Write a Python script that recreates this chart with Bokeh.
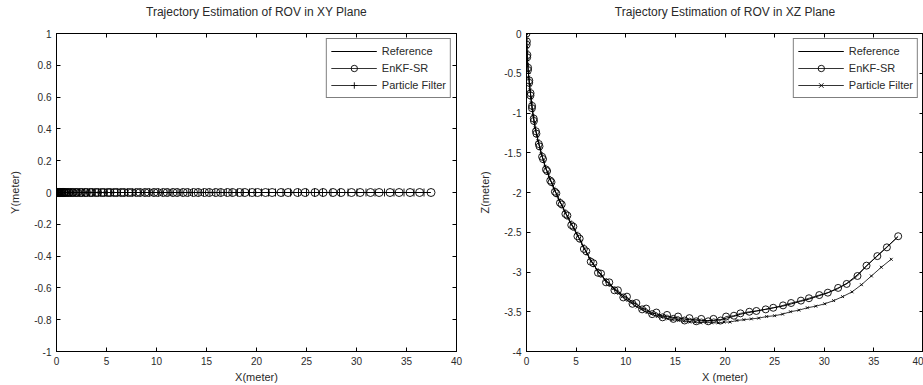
from bokeh.plotting import figure
from bokeh.models import Range1d, FixedTicker, LinearAxis, Title, Legend, CustomJSTickFormatter
from bokeh.layouts import row
from bokeh.embed import file_html
from bokeh.resources import INLINE

# ---------------- data ----------------
ref_x = [0.00, 0.01, 0.03, 0.06, 0.09, 0.13, 0.18, 0.24, 0.30, 0.37, 0.44, 0.51, 0.59, 0.68, 0.78, 0.90,
         1.04, 1.19, 1.35, 1.52, 1.71, 1.91, 2.12, 2.34, 2.57, 2.81, 3.06, 3.32, 3.59, 3.87, 4.16, 4.46,
         4.77, 5.08, 5.40, 5.73, 6.07, 6.42, 6.78, 7.15,
         7.55, 7.96, 8.38, 8.81, 9.25, 9.70, 10.16, 10.63, 11.11, 11.60, 12.10, 12.61, 13.13, 13.66, 14.20,
         14.75, 15.31, 15.88, 16.46, 17.05, 17.65, 18.26, 18.88, 19.51, 20.15,
         20.85, 21.60, 22.40, 23.20, 24.05, 24.90, 25.80, 26.70, 27.60, 28.50, 29.45, 30.40, 31.35, 32.30,
         33.30, 34.30, 35.30, 36.35, 37.40]
ref_z = [0.00, -0.08, -0.16, -0.24, -0.32, -0.40, -0.48, -0.56, -0.64, -0.72, -0.80, -0.88, -0.96, -1.04,
         -1.12, -1.20, -1.28, -1.36, -1.44, -1.52, -1.60, -1.68, -1.75, -1.82, -1.89, -1.96, -2.03, -2.10,
         -2.17, -2.24, -2.31, -2.38, -2.45, -2.52, -2.60, -2.68, -2.76, -2.84, -2.91, -2.98,
         -3.04, -3.10, -3.15, -3.20, -3.25, -3.29, -3.33, -3.37, -3.41, -3.45, -3.48, -3.51, -3.53, -3.55,
         -3.56, -3.57, -3.58, -3.59, -3.60, -3.60, -3.61, -3.61, -3.61, -3.60, -3.58,
         -3.56, -3.53, -3.51, -3.49, -3.47, -3.45, -3.43, -3.40, -3.37, -3.34, -3.30, -3.26, -3.21, -3.14,
         -3.04, -2.92, -2.80, -2.68, -2.56]

enkf_x = [0.00, 0.04, 0.02, 0.09, 0.07, 0.16, 0.15, 0.28, 0.27, 0.41, 0.40, 0.56, 0.55, 0.73, 0.75, 0.95,
          1.00, 1.24, 1.31, 1.57, 1.67, 1.96, 2.08, 2.39, 2.52, 2.86, 3.01, 3.37, 3.55, 3.92, 4.12, 4.51,
          4.72, 5.13, 5.36, 5.78, 6.03, 6.47, 6.74, 7.20,
          7.51, 8.01, 8.34, 8.86, 9.21, 9.75, 10.12, 10.68, 11.07, 11.65, 12.06, 12.66, 13.09, 13.71, 14.16,
          14.80, 15.27, 15.93, 16.42, 17.10, 17.61, 18.31, 18.84, 19.56, 20.11,
          20.90, 21.56, 22.45, 23.16, 24.10, 24.86, 25.85, 26.66, 27.65, 28.46, 29.50, 30.36, 31.40, 32.26,
          33.35, 34.26, 35.35, 36.31, 37.45]
enkf_z = [0.00, -0.10, -0.14, -0.27, -0.30, -0.43, -0.46, -0.59, -0.62, -0.75, -0.78, -0.91, -0.94, -1.07,
          -1.10, -1.23, -1.26, -1.39, -1.42, -1.55, -1.58, -1.71, -1.73, -1.85, -1.87, -1.99, -2.01, -2.13,
          -2.15, -2.27, -2.29, -2.41, -2.43, -2.55, -2.58, -2.71, -2.74, -2.87, -2.89, -3.01,
          -3.02, -3.13, -3.13, -3.23, -3.23, -3.32, -3.31, -3.40, -3.39, -3.47, -3.46, -3.53, -3.51, -3.57,
          -3.54, -3.59, -3.56, -3.61, -3.58, -3.62, -3.59, -3.62, -3.59, -3.61, -3.56,
          -3.55, -3.52, -3.50, -3.49, -3.47, -3.45, -3.42, -3.39, -3.36, -3.33, -3.29, -3.26, -3.20, -3.15,
          -3.05, -2.92, -2.80, -2.69, -2.55]

pf_x = [0.00, 0.00, 0.05, 0.04, 0.12, 0.11, 0.21, 0.21, 0.33, 0.34, 0.48, 0.48, 0.63, 0.65, 0.82, 0.86,
        1.08, 1.15, 1.40, 1.48, 1.76, 1.86, 2.17, 2.30, 2.62, 2.77, 3.11, 3.28, 3.64, 3.83, 4.21, 4.41,
        4.82, 5.03, 5.45, 5.68, 6.12, 6.37, 6.83, 7.10,
        7.60, 7.91, 8.43, 8.76, 9.30, 9.65, 10.21, 10.58, 11.16, 11.55, 12.15, 12.56, 13.18, 13.60, 14.24,
        14.70, 15.34, 15.83, 16.45, 16.98, 17.55, 18.10, 18.65, 19.30, 19.90,
        20.50, 21.20, 21.90, 22.65, 23.40, 24.20, 25.00, 25.80, 26.60, 27.45, 28.30, 29.15, 30.05, 30.95,
        31.85, 32.80, 33.75, 34.75, 35.75, 36.75]
pf_z = [0.00, -0.07, -0.17, -0.23, -0.33, -0.39, -0.49, -0.55, -0.65, -0.71, -0.81, -0.87, -0.97, -1.03,
        -1.13, -1.19, -1.29, -1.35, -1.45, -1.51, -1.61, -1.67, -1.76, -1.81, -1.90, -1.95, -2.04, -2.09,
        -2.18, -2.23, -2.32, -2.37, -2.46, -2.51, -2.61, -2.67, -2.77, -2.83, -2.92, -2.97,
        -3.05, -3.10, -3.17, -3.21, -3.27, -3.31, -3.36, -3.39, -3.44, -3.47, -3.51, -3.53, -3.56, -3.57,
        -3.59, -3.60, -3.61, -3.62, -3.63, -3.63, -3.64, -3.63, -3.64, -3.64, -3.63,
        -3.63, -3.61, -3.60, -3.59, -3.58, -3.56, -3.55, -3.53, -3.50, -3.48, -3.45, -3.43, -3.40, -3.36,
        -3.31, -3.25, -3.16, -3.05, -2.94, -2.84]

# lateral (Y) positions: the ROV stays in the XZ plane
ref_y = [0.0] * len(ref_x)
enkf_y = [0.0] * len(enkf_x)
pf_y = [0.0] * len(pf_x)

x_ticks = [0, 5, 10, 15, 20, 25, 30, 35, 40]
x_tick_labels = ["0", "5", "10", "15", "20", "25", "30", "35", "40"]
y_ticks = [-1, -0.8, -0.6, -0.4, -0.2, 0, 0.2, 0.4, 0.6, 0.8, 1]
y_tick_labels = ["-1", "-0.8", "-0.6", "-0.4", "-0.2", "0", "0.2", "0.4", "0.6", "0.8", "1"]
z_ticks = [-4, -3.5, -3, -2.5, -2, -1.5, -1, -0.5, 0]
z_tick_labels = ["-4", "-3.5", "-3", "-2.5", "-2", "-1.5", "-1", "-0.5", "0"]

FONT = "Liberation Sans"
TXT = "#2a2a2a"
FS = "10px"
FS_BIG = "11px"
FS_TITLE = "12px"


def style_axis(ax, ticks, labels, show_labels=True):
    ax.ticker = FixedTicker(ticks=ticks)
    ax.major_tick_in = 4
    ax.major_tick_out = 0
    ax.minor_tick_line_color = None
    ax.axis_line_color = "black"
    ax.major_tick_line_color = "black"
    ax.major_label_text_font = FONT
    ax.axis_label_text_font = FONT
    ax.axis_label_text_font_style = "normal"
    ax.axis_label_text_color = TXT
    ax.axis_label_text_font_size = FS_BIG
    if show_labels:
        ax.major_label_overrides = {t: l for t, l in zip(ticks, labels)}
        ax.major_label_text_font_size = FS
        ax.major_label_text_color = TXT
        ax.major_label_standoff = 5
    else:
        ax.formatter = CustomJSTickFormatter(code="return ''")
        ax.major_label_text_font_size = "0px"
        ax.major_label_text_color = None
        ax.major_label_standoff = 0


def make_fig(width, border_left, border_right, title, yr, yticks, ylabels, ylabel, xlabel):
    p = figure(width=width, height=385, output_backend="svg", toolbar_location=None,
               x_range=Range1d(0, 40), y_range=Range1d(*yr),
               min_border_left=border_left, min_border_right=border_right,
               min_border_top=33, min_border_bottom=32)
    p.title = Title(text=title, align="center", text_font=FONT,
                    text_font_size=FS_TITLE, text_font_style="normal", text_color=TXT, standoff=2)
    p.xgrid.visible = False
    p.ygrid.visible = False
    p.outline_line_color = "black"
    p.outline_line_alpha = 1
    p.background_fill_color = "white"
    p.border_fill_color = "white"
    style_axis(p.xaxis[0], x_ticks, x_tick_labels)
    style_axis(p.yaxis[0], yticks, ylabels)
    p.xaxis[0].axis_label = xlabel
    p.xaxis[0].axis_label_standoff = 3
    p.yaxis[0].axis_label = ylabel
    p.yaxis[0].axis_label_standoff = 10
    # top frame ticks; its (undrawn) blank label only reserves the gap under the title
    top = LinearAxis()
    style_axis(top, x_ticks, x_tick_labels, show_labels=False)
    top.axis_label = " "
    top.axis_label_text_color = None
    top.axis_label_text_font_size = "10px"
    top.axis_label_standoff = 0
    p.add_layout(top, "above")
    right = LinearAxis()
    style_axis(right, yticks, ylabels, show_labels=False)
    p.add_layout(right, "right")
    return p


def add_series(p, xs_ref, ys_ref, xs_e, ys_e, xs_p, ys_p, circle_size, pf_marker, pf_size):
    r0 = p.line(xs_ref, ys_ref, line_color="black", line_width=1)
    r1 = p.line(xs_e, ys_e, line_color="black", line_width=0.8)
    r2 = p.scatter(xs_e, ys_e, marker="circle", size=circle_size, line_color="black", line_width=0.9,
                   fill_alpha=0)
    r3 = p.line(xs_p, ys_p, line_color="black", line_width=0.8)
    r4 = p.scatter(xs_p, ys_p, marker=pf_marker, size=pf_size, line_color="black", line_width=0.9)
    leg = Legend(items=[("Reference", [r0]), ("EnKF-SR", [r1, r2]), ("Particle Filter", [r3, r4])],
                 location="top_right", margin=5, padding=4, spacing=1,
                 glyph_width=46, glyph_height=16, label_height=16, label_standoff=5,
                 label_text_font=FONT, label_text_font_size=FS_BIG, label_text_color=TXT,
                 border_line_color="black", border_line_width=1, background_fill_alpha=1)
    p.add_layout(leg, "center")


p1 = make_fig(476, 56, 20, "Trajectory Estimation of ROV in XY Plane", (-1, 1), y_ticks, y_tick_labels,
              "Y(meter)", "X(meter)")
add_series(p1, ref_x, ref_y, enkf_x, enkf_y, pf_x, pf_y, 8, "cross", 8)

p2 = make_fig(447, 45, 0, "Trajectory Estimation of ROV in XZ Plane", (-4, 0), z_ticks, z_tick_labels,
              "Z(meter)", "X (meter)")
add_series(p2, ref_x, ref_z, enkf_x, enkf_z, pf_x, pf_z, 7, "x", 4)

layout = row(p1, p2)
open("out.html", "w").write(file_html(layout, INLINE))
